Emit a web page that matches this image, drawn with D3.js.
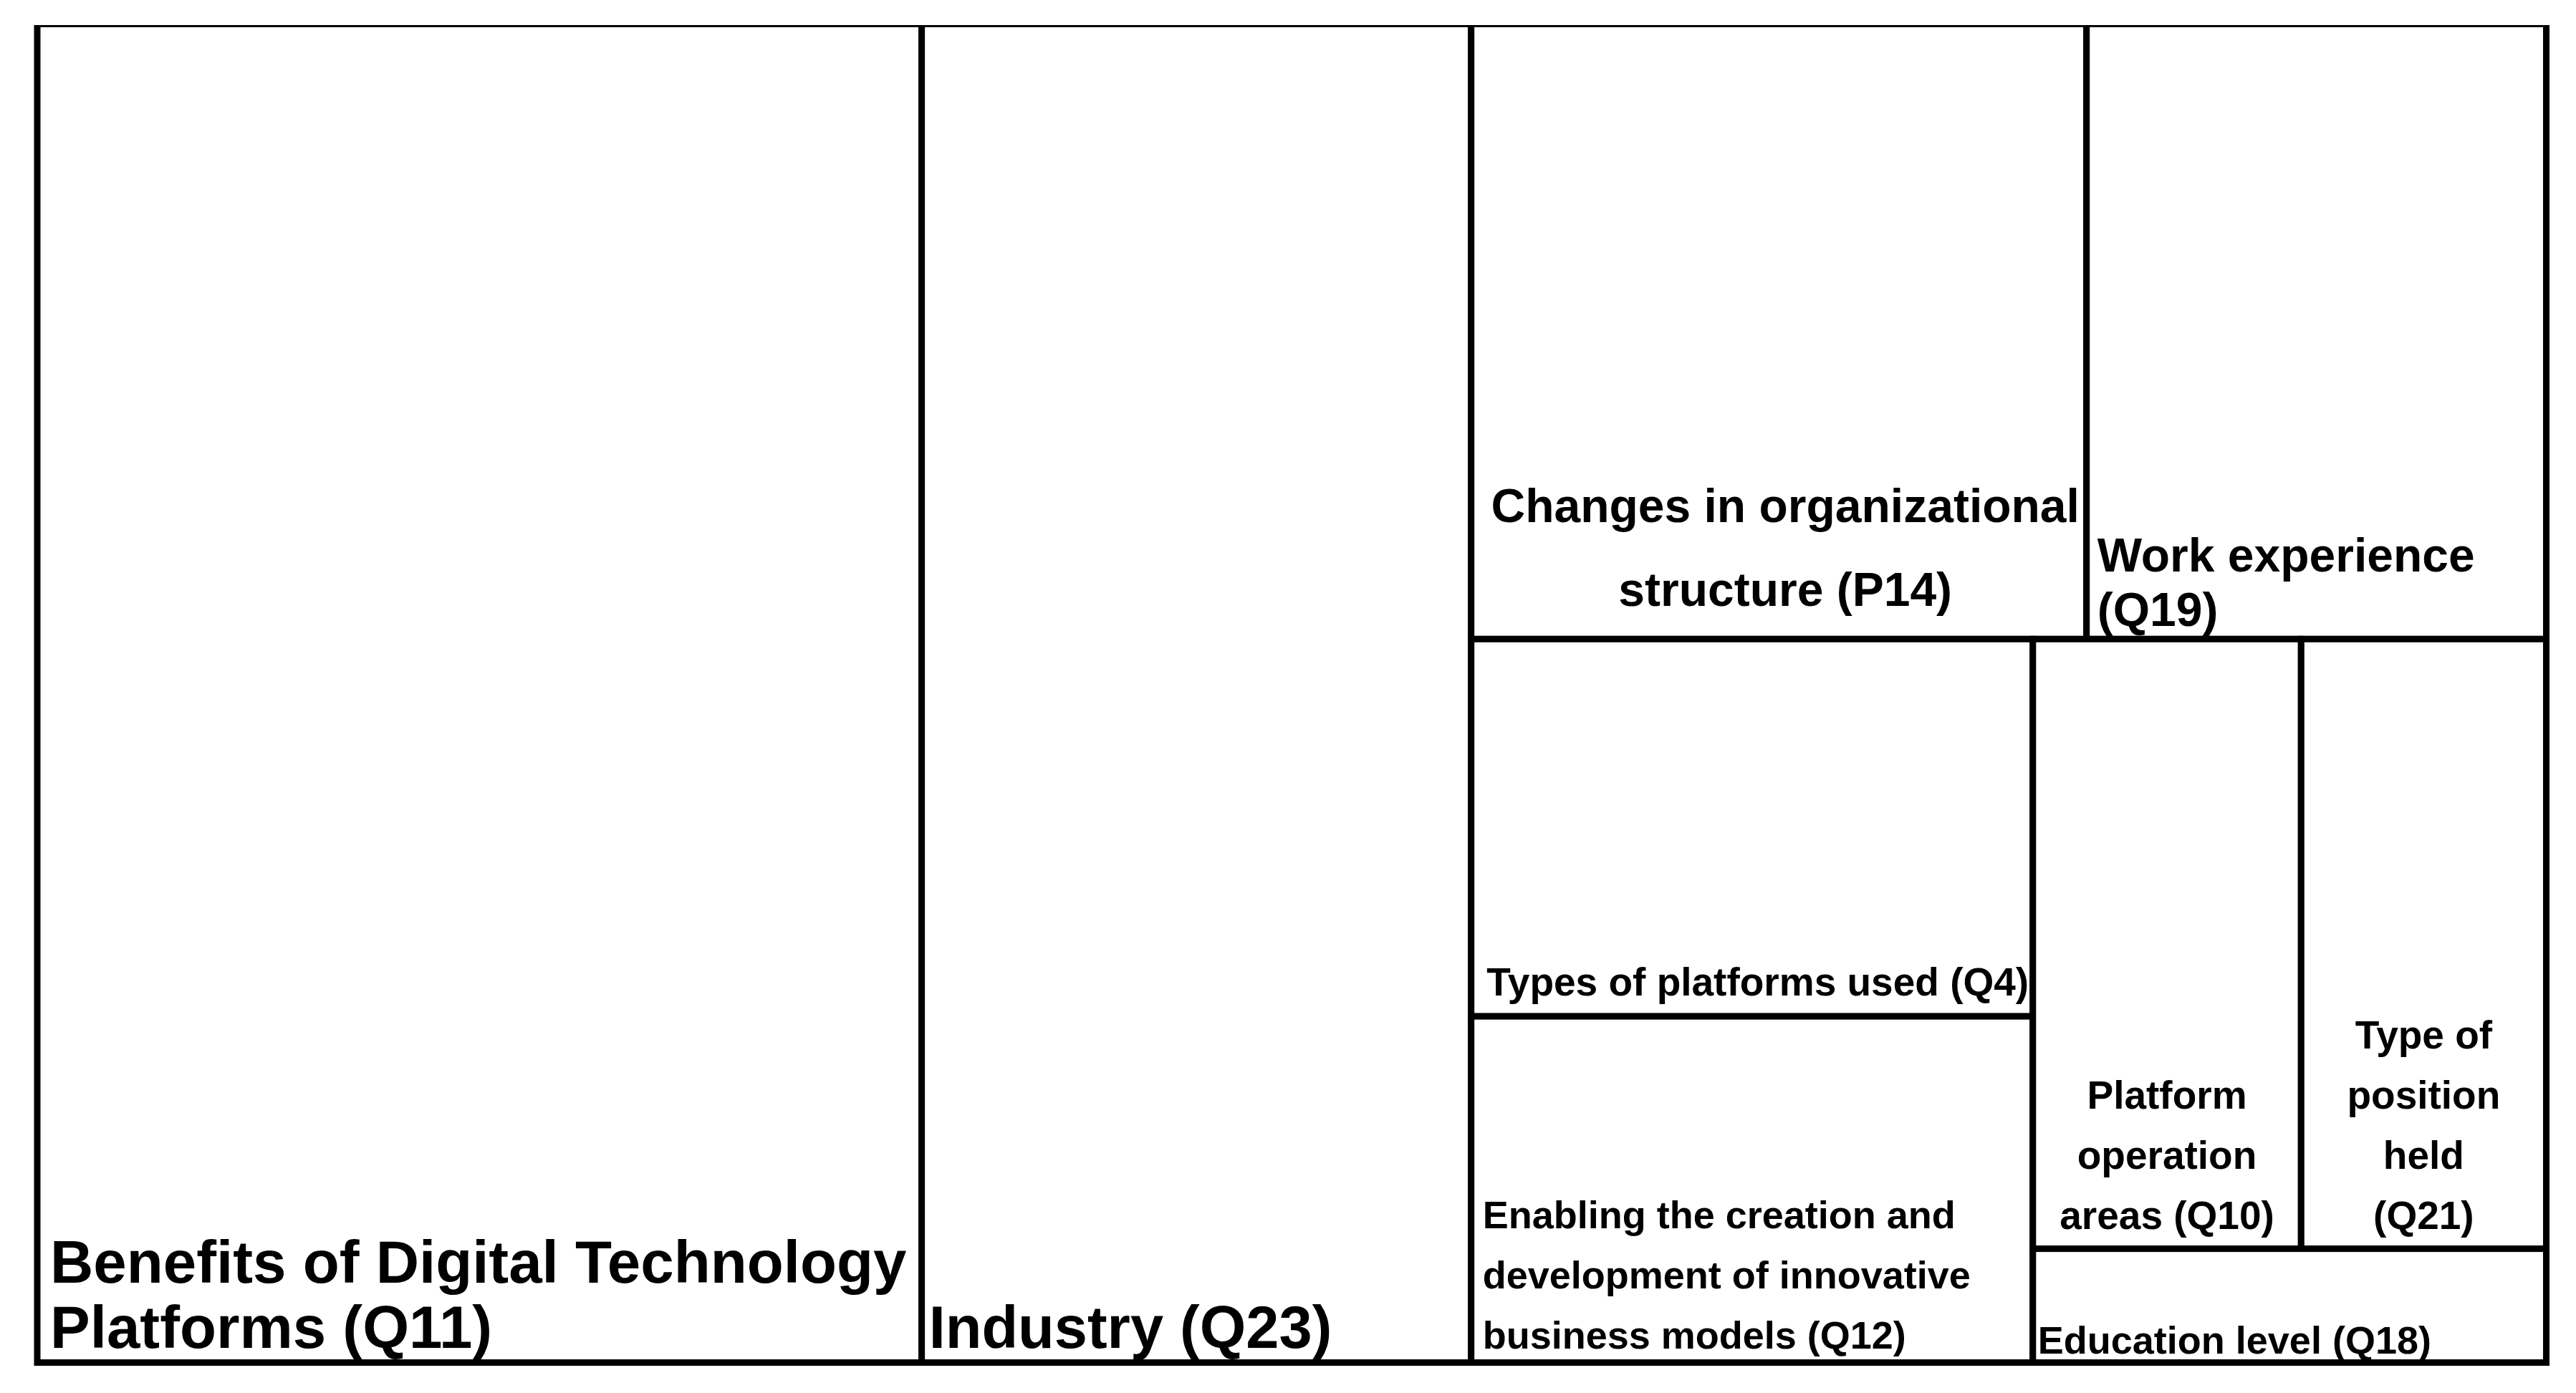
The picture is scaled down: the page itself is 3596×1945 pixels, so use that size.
<!DOCTYPE html>
<meta charset="utf-8">
<style>
  body { margin: 0; background: #fff; }
  svg { display: block; }
  .cell rect { fill: #fff; stroke: #000; stroke-width: 9; }
  .cell text { font-family: "Liberation Sans", Arial, sans-serif; font-weight: bold; fill: #000; }
</style>
<body>
<script src="https://d3js.org/d3.v7.min.js"></script>
<script>

  // leaf categories, in drawing order
  var names = [
    "Benefits of Digital Technology Platforms (Q11)",
    "Industry (Q23)",
    "Changes in organizational structure (P14)",
    "Work experience (Q19)",
    "Types of platforms used (Q4)",
    "Enabling the creation and development of innovative business models (Q12)",
    "Platform operation areas (Q10)",
    "Type of position held (Q21)",
    "Education level (Q18)"
  ]

  // share of total (%)
  var values = [35.25, 21.90, 11.27, 8.42, 6.31, 5.79, 4.87, 4.45, 1.74]

  // label lines as they wrap in the picture
  var labels = [
    ["Benefits of Digital Technology", "Platforms (Q11)"],
    ["Industry (Q23)"],
    ["Changes in organizational", "structure (P14)"],
    ["Work experience", "(Q19)"],
    ["Types of platforms used (Q4)"],
    ["Enabling the creation and", "development of innovative", "business models (Q12)"],
    ["Platform", "operation", "areas (Q10)"],
    ["Type of", "position", "held", "(Q21)"],
    ["Education level (Q18)"]
  ]

  // how the leaves nest (slice/dice alternates by depth)
  var groups = ["", "", "rest/top", "rest/top", "rest/bottom/left", "rest/bottom/left",
    "rest/bottom/right/pair", "rest/bottom/right/pair", "rest/bottom/right"]

  // label style per leaf: anchor, font size, line height, x offset, last baseline above cell bottom
  var labelStyle = [
    { anchor: "start", size: 83.5, lh: 91, dx: 18, db: 21 },
    { anchor: "start", size: 83, lh: 91, dx: 10, db: 21 },
    { anchor: "middle", size: 66, lh: 117, dx: 9, db: 46 },
    { anchor: "start", size: 66, lh: 76, dx: 15, db: 18 },
    { anchor: "middle", size: 55, lh: 84, dx: 8, db: 29 },
    { anchor: "start", size: 54, lh: 84, dx: 16, db: 20 },
    { anchor: "middle", size: 55, lh: 84, dx: 0, db: 28 },
    { anchor: "middle", size: 55, lh: 84, dx: 0, db: 28 },
    { anchor: "start", size: 54, lh: 84, dx: 7, db: 13 }
  ]

  var width = 3596
  var height = 1945
  var margin = { left: 52, top: 33.5, right: 3596 - 3554.5, bottom: 1945 - 1902.5 }
  var innerW = width - margin.left - margin.right
  var innerH = height - margin.top - margin.bottom

  // build nested tree from the flat arrays
  var root = { name: "root", children: [] }
  names.forEach(function (n, i) {
    var parent = root
    if (groups[i]) {
      groups[i].split("/").forEach(function (g) {
        var c = parent.children.find(function (d) { return d.name === g && d.children })
        if (!c) {
          c = { name: g, children: [] }
          parent.children.push(c)
        }
        parent = c
      })
    }
    parent.children.push({ name: n, value: values[i], idx: i })
  })

  var hier = d3.hierarchy(root).sum(function (d) { return d.value || 0 })

  d3.treemap()
    .tile(d3.treemapSliceDice)
    .size([innerW, innerH])
    .padding(0)
    .round(false)(hier)

  var svg = d3.select("body").append("svg")
    .attr("width", width)
    .attr("height", height)

  svg.append("rect").attr("width", width).attr("height", height).attr("fill", "#fff")

  // top edge is drawn thin in the original
  svg.append("defs").append("clipPath").attr("id", "frame")
    .append("rect")
    .attr("x", 0).attr("y", 35)
    .attr("width", width).attr("height", height - 35)

  var g = svg.append("g")
    .attr("clip-path", "url(#frame)")
    .append("g")
    .attr("transform", "translate(" + margin.left + "," + margin.top + ")")

  var cells = g.selectAll(".cell")
    .data(hier.leaves())
    .enter().append("g")
    .attr("class", "cell")

  cells.append("rect")
    .attr("x", function (d) { return d.x0 })
    .attr("y", function (d) { return d.y0 })
    .attr("width", function (d) { return d.x1 - d.x0 })
    .attr("height", function (d) { return d.y1 - d.y0 })

  cells.each(function (d) {
    var i = d.data.idx
    var st = labelStyle[i]
    var lines = labels[i]
    var x = st.anchor === "middle" ? (d.x0 + d.x1) / 2 + st.dx : d.x0 + st.dx
    var lastY = d.y1 - st.db
    var t = d3.select(this).append("text")
      .attr("text-anchor", st.anchor)
      .attr("font-size", st.size)
    lines.forEach(function (line, k) {
      t.append("tspan")
        .attr("x", x)
        .attr("y", lastY - (lines.length - 1 - k) * st.lh)
        .text(line)
    })
  })

</script>
</body>
